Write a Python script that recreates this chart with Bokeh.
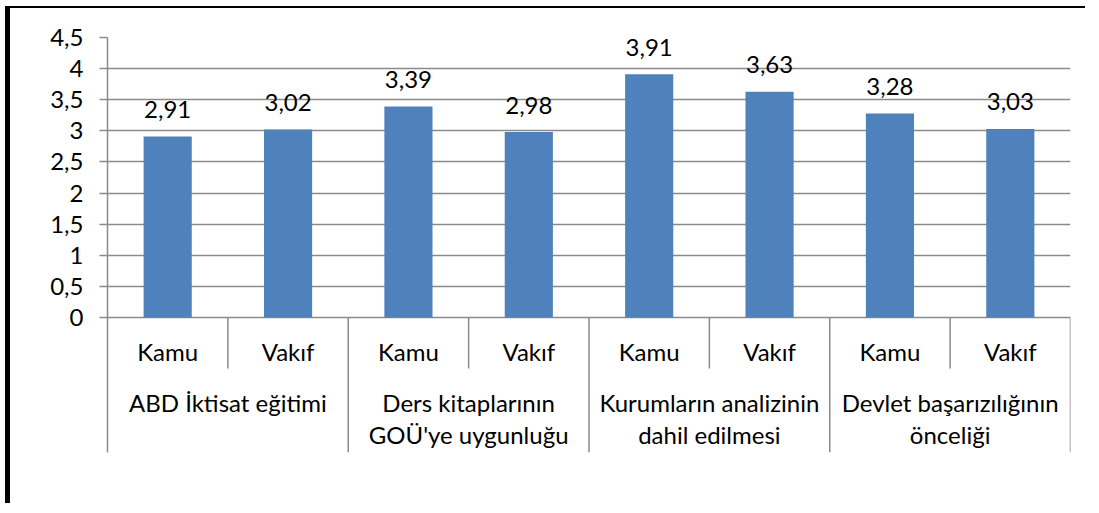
from bokeh.plotting import figure
from bokeh.models import Range1d, FixedTicker
from bokeh.core.properties import value
from bokeh.embed import file_html
from bokeh.resources import INLINE

# ---- data ----
groups = ["ABD İktisat eğitimi", "Ders kitaplarının\nGOÜ'ye uygunluğu",
          "Kurumların analizinin\ndahil edilmesi", "Devlet başarızılığının\nönceliği"]
subgroups = ["Kamu", "Vakıf"]
values = [2.91, 3.02, 3.39, 2.98, 3.91, 3.63, 3.28, 3.03]
y_ticks = [0, 0.5, 1, 1.5, 2, 2.5, 3, 3.5, 4, 4.5]
y_tick_labels = ["0", "0,5", "1", "1,5", "2", "2,5", "3", "3,5", "4", "4,5"]

# ---- style ----
FONT = "Lato"
FS = "24px"
GRAY = "#8a8a8a"
BLUE = "#4F81BD"

n_sub = len(subgroups)
n = len(groups) * n_sub
x_centers = [i + 0.5 for i in range(n)]
sub_labels = [subgroups[i % n_sub] for i in range(n)]
grp_centers = [g * n_sub + n_sub / 2 for g in range(len(groups))]
grp_line1 = [g.split("\n")[0] for g in groups]
grp_line2 = [g.split("\n")[1] if "\n" in g else "" for g in groups]
val_labels = [f"{v:.2f}".replace(".", ",") for v in values]

Y_LOW = -2.17
p = figure(width=1080, height=497, output_backend="svg", toolbar_location=None,
           x_range=Range1d(0, n), y_range=Range1d(Y_LOW, 4.5),
           x_axis_type=None, min_border_left=97, min_border_right=20,
           min_border_top=29, min_border_bottom=53, title=None)
p.styles = {"border-left": "5px solid black", "border-top": "2px solid black",
            "margin-left": "5px", "margin-top": "6px"}
p.outline_line_color = None
p.background_fill_color = "white"
p.border_fill_color = "white"

ax = p.yaxis[0]
ax.ticker = FixedTicker(ticks=y_ticks)
ax.major_label_overrides = {t: l for t, l in zip(y_ticks, y_tick_labels)}
ax.major_label_text_font = FONT
ax.major_label_text_font_size = FS
ax.major_label_text_color = "black"
ax.major_label_standoff = 16
ax.major_tick_out = 8
ax.major_tick_in = 0
ax.minor_tick_line_color = None
ax.major_tick_line_color = GRAY
ax.axis_line_color = GRAY
ax.axis_line_width = 1.5
ax.major_tick_line_width = 1.5

p.xgrid.visible = False
p.ygrid.ticker = FixedTicker(ticks=y_ticks)
p.ygrid.grid_line_color = GRAY
p.ygrid.grid_line_width = 1.5

p.vbar(x=x_centers, top=values, width=0.4, bottom=0, fill_color=BLUE, line_color=None)

# separators
inner_x = [g * n_sub + k for g in range(len(groups)) for k in range(1, n_sub)]
outer_x = [g * n_sub for g in range(1, len(groups) + 1)]
p.segment(x0=inner_x, x1=inner_x, y0=[0] * len(inner_x), y1=[-0.82] * len(inner_x),
          line_color=GRAY, line_width=1.5)
p.segment(x0=outer_x, x1=outer_x, y0=[0] * len(outer_x), y1=[Y_LOW] * len(outer_x),
          line_color=GRAY, line_width=1.5)

p.text(x=x_centers, y=values, text=val_labels, text_align="center",
       text_baseline="alphabetic", y_offset=-27, text_font=value(FONT),
       text_font_size=FS, text_color="black")
p.text(x=x_centers, y=[-0.55] * n, text=sub_labels, text_align="center",
       text_baseline="middle", text_font=value(FONT), text_font_size=FS,
       text_color="black")
p.text(x=grp_centers, y=[-1.37] * len(groups), text=grp_line1, text_align="center",
       text_baseline="middle", text_font=value(FONT), text_font_size=FS,
       text_color="black")
p.text(x=grp_centers, y=[-1.88] * len(groups), text=grp_line2, text_align="center",
       text_baseline="middle", text_font=value(FONT), text_font_size=FS,
       text_color="black")

open("out.html", "w").write(file_html(p, INLINE))
